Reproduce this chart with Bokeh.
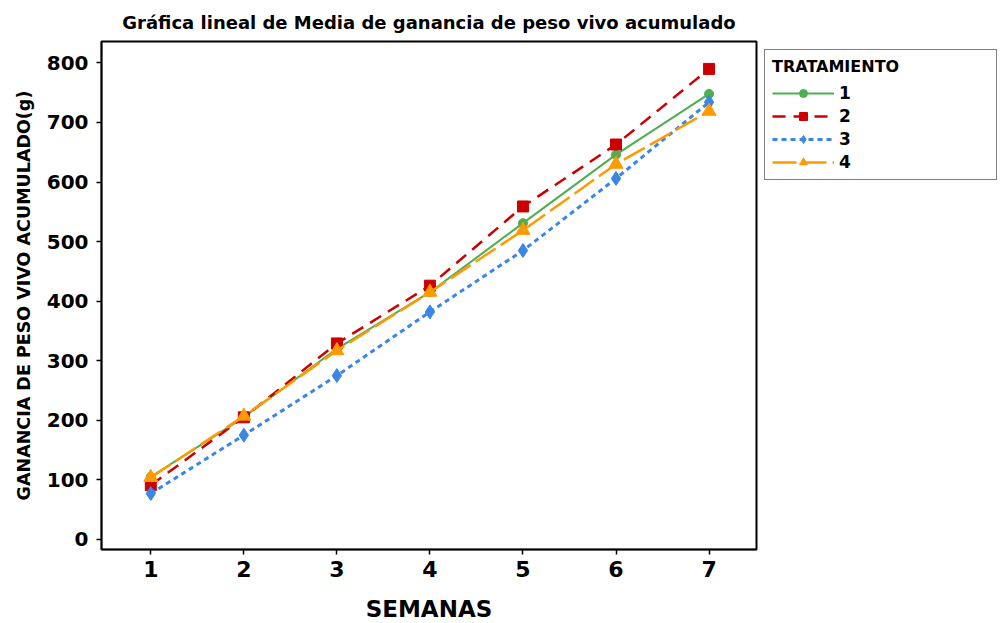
from bokeh.plotting import figure
from bokeh.models import Range1d, FixedTicker, Legend, LegendItem
from bokeh.embed import file_html
from bokeh.resources import INLINE

semanas = [1, 2, 3, 4, 5, 6, 7]
trat_1 = [105, 205, 320, 415, 531, 646, 748]
trat_2 = [91, 205, 329, 426, 559, 663, 790]
trat_3 = [77, 175, 275, 382, 485, 606, 734]
trat_4 = [104, 207, 317, 415, 519, 630, 719]
series_names = ["1", "2", "3", "4"]
y_ticks = [0, 100, 200, 300, 400, 500, 600, 700, 800]

FONT = "DejaVu Sans"

p = figure(frame_width=655, frame_height=508, output_backend="svg", toolbar_location=None,
           x_range=Range1d(0.47, 7.51), y_range=Range1d(-17, 836),
           min_border_left=101, min_border_bottom=74, min_border_top=41, min_border_right=0,
           title="Gráfica lineal de Media de ganancia de peso vivo acumulado")

p.title.text_font = FONT
p.title.text_font_size = "18px"
p.title.text_font_style = "bold"
p.title.text_color = "black"
p.title.align = "center"
p.title.offset = 0
p.title.standoff = 18

p.grid.visible = False
p.outline_line_color = "black"
p.outline_line_width = 2

for ax in (p.xaxis[0], p.yaxis[0]):
    ax.axis_line_color = "black"
    ax.axis_line_width = 1.5
    ax.major_tick_line_color = "black"
    ax.major_tick_line_width = 1.5
    ax.major_tick_out = 5
    ax.major_tick_in = 0
    ax.minor_tick_line_color = None
    ax.major_label_text_font = FONT
    ax.major_label_text_font_style = "bold"
    ax.major_label_text_color = "black"
    ax.axis_label_text_font = FONT
    ax.axis_label_text_font_style = "bold"
    ax.axis_label_text_color = "black"

p.xaxis.ticker = FixedTicker(ticks=semanas)
p.yaxis.ticker = FixedTicker(ticks=y_ticks)
p.xaxis.major_label_text_font_size = "22px"
p.yaxis.major_label_text_font_size = "20px"
p.xaxis.major_label_standoff = 6
p.yaxis.major_label_standoff = 8
p.xaxis.axis_label = "SEMANAS"
p.xaxis.axis_label_text_font_size = "23px"
p.xaxis.axis_label_standoff = 16
p.yaxis.axis_label = "GANANCIA DE PESO VIVO ACUMULADO(g)"
p.yaxis.axis_label_text_font_size = "17.5px"
p.yaxis.axis_label_standoff = 10

green = "#4caf50"
red = "#cc0000"
blue = "#3a86e6"
orange = "#ff9a00"

l1 = p.line(semanas, trat_1, line_color=green, line_width=2)
m1 = p.scatter(semanas, trat_1, marker="circle", size=9, fill_color=green, line_color=green)
l2 = p.line(semanas, trat_2, line_color=red, line_width=2.5, line_dash="13 8")
m2 = p.scatter(semanas, trat_2, marker="square", size=11, fill_color=red, line_color=red)
l3 = p.line(semanas, trat_3, line_color=blue, line_width=3, line_dash="5 4")
m3 = p.scatter(semanas, trat_3, marker="diamond", size=14, fill_color=blue, line_color=blue)
l4 = p.line(semanas, trat_4, line_color=orange, line_width=2.5, line_dash="24 6")
m4 = p.scatter(semanas, trat_4, marker="triangle", size=14, fill_color=orange, line_color=orange)

items = [LegendItem(label=series_names[0], renderers=[l1, m1]),
         LegendItem(label=series_names[1], renderers=[l2, m2]),
         LegendItem(label=series_names[2], renderers=[l3, m3]),
         LegendItem(label=series_names[3], renderers=[l4, m4])]
legend = Legend(items=items, location="top_left", title="TRATAMIENTO",
                title_text_font=FONT, title_text_font_style="bold", title_text_font_size="16px",
                title_text_color="black",
                label_text_font=FONT, label_text_font_style="bold", label_text_font_size="17px",
                label_text_color="black",
                glyph_width=62, glyph_height=20, label_width=150, spacing=3,
                padding=7, margin=8, border_line_color="black", border_line_width=1.5,
                title_standoff=7, label_height=20)
p.add_layout(legend, "right")

open("out.html", "w").write(file_html(p, INLINE))
